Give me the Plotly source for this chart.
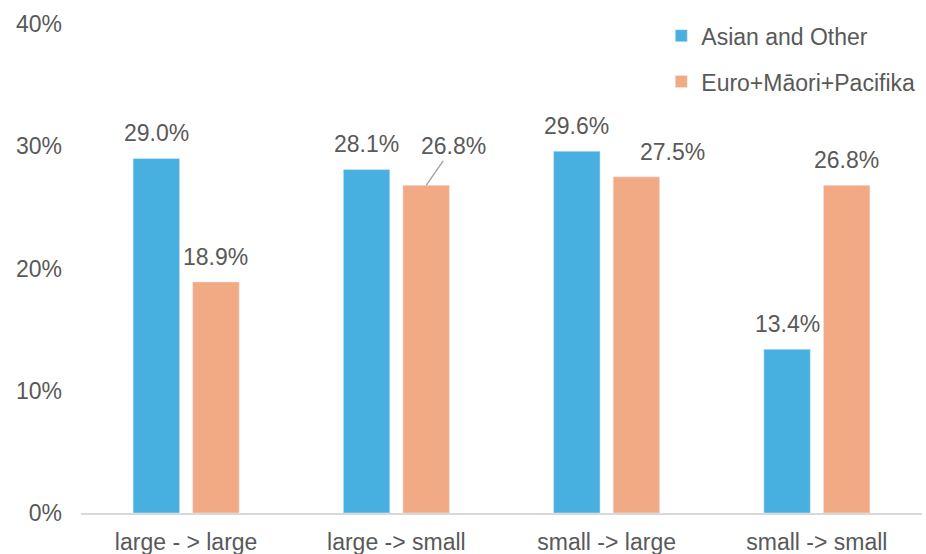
import plotly.graph_objects as go

# Transitions between school size categories
categories = ["large - > large", "large -> small", "small -> large", "small -> small"]
asian_other = [29.0, 28.1, 29.6, 13.4]
euro_maori_pacifika = [18.9, 26.8, 27.5, 26.8]
series_names = ["Asian and Other", "Euro+Māori+Pacifika"]
y_ticks = [0, 10, 20, 30, 40]
y_tick_labels = [f"{t}%" for t in y_ticks]

BLUE = "#48B0E0"
ORANGE = "#F2AA84"
TEXT = "#595959"
FONT = "Liberation Sans, Arial, sans-serif"

BARGAP = 0.433
# each of the two bars occupies a quarter of the group's width; its centre
# sits half a slot away from the category centre
SLOT_OFFSET = (1 - BARGAP) / 4

fig = go.Figure()
fig.add_trace(go.Bar(x=categories, y=asian_other, name=series_names[0],
                     marker_color=BLUE, legendgroup="a"))
fig.add_trace(go.Bar(x=categories, y=euro_maori_pacifika, name=series_names[1],
                     marker_color=ORANGE, legendgroup="b"))

label_font = dict(size=23, color=TEXT, family=FONT)

# Value labels above each bar
lead_idx = 1   # orange label pulled up-right with a leader line
shift_idx = 2  # orange label nudged right
annotations = []
for i, v in enumerate(asian_other):
    annotations.append(dict(x=i - SLOT_OFFSET, y=v, xref="x", yref="y",
                            text=f"{v:.1f}%", showarrow=False,
                            yanchor="middle", yshift=25, font=label_font))
for i, v in enumerate(euro_maori_pacifika):
    if i == lead_idx:
        annotations.append(dict(x=i + SLOT_OFFSET, y=v, xref="x", yref="y",
                                text=f"{v:.1f}%", showarrow=True, arrowhead=0,
                                arrowwidth=1.5, arrowcolor="#A6A6A6", standoff=0,
                                ax=27, ay=-39, font=label_font))
    else:
        annotations.append(dict(x=i + SLOT_OFFSET, y=v, xref="x", yref="y",
                                text=f"{v:.1f}%", showarrow=False,
                                yanchor="middle", yshift=25,
                                xshift=36 if i == shift_idx else 0,
                                font=label_font))

fig.update_layout(
    width=926, height=554,
    margin=dict(l=81, r=4, t=24, b=41),
    paper_bgcolor="white", plot_bgcolor="white",
    barmode="group", bargap=BARGAP, bargroupgap=0.22,
    font=dict(family=FONT, size=23, color=TEXT),
    legend=dict(x=0.69, y=1.02, xanchor="left", yanchor="top",
                tracegroupgap=13, font=dict(size=23, color=TEXT),
                bgcolor="rgba(0,0,0,0)"),
    annotations=annotations,
)
fig.update_xaxes(showline=True, linecolor="#D9D9D9", linewidth=2,
                 showgrid=False, zeroline=False, ticks="", automargin=False,
                 ticklabelstandoff=7, tickfont=dict(size=23, color=TEXT))
fig.update_yaxes(range=[0, 40], tickvals=y_ticks, ticktext=y_tick_labels,
                 showgrid=False, zeroline=False, showline=False, ticks="",
                 automargin=False, ticklabelstandoff=18,
                 tickfont=dict(size=23, color=TEXT))

fig.write_html("out.html")
